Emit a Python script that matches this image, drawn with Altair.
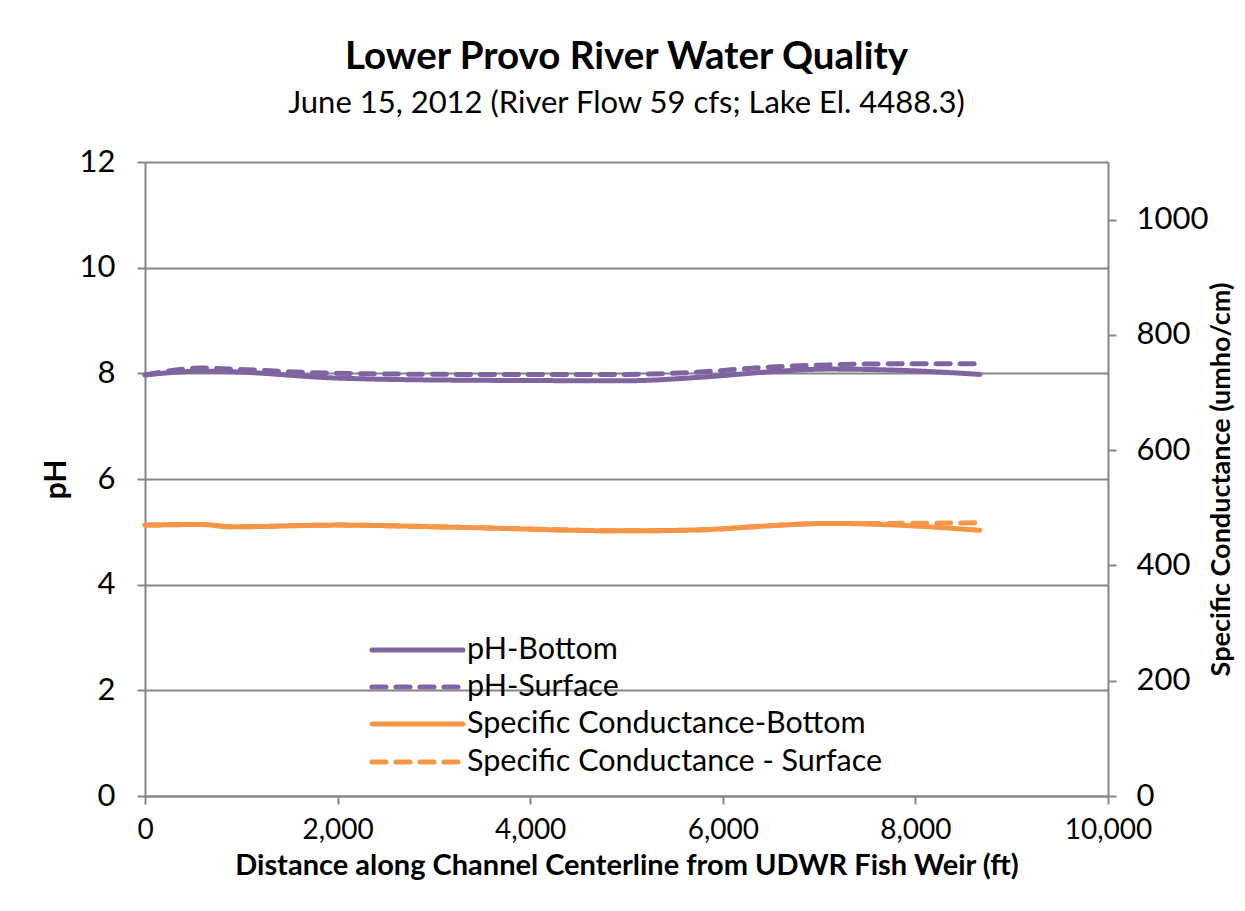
import altair as alt
import pandas as pd

# Sample locations (ft from UDWR Fish Weir)
distance = [0, 600, 900, 2000, 3300, 5000, 5800, 6500, 7100, 7800, 8670]
ph_bottom = [7.97, 8.04, 8.03, 7.91, 7.87, 7.86, 7.93, 8.03, 8.08, 8.06, 7.98]
ph_surface = [7.97, 8.10, 8.08, 8.00, 7.98, 7.98, 8.03, 8.12, 8.16, 8.18, 8.18]
sc_bottom = [470, 471, 467, 470, 466, 460, 462, 469, 473, 470, 461]
sc_surface = [470, 471, 467, 470, 466, 460, 462, 469, 473, 473, 474]

series_names = ["pH-Bottom", "pH-Surface",
                "Specific Conductance-Bottom", "Specific Conductance - Surface"]
series_colors = ["#8064A2", "#8064A2", "#F79646", "#F79646"]
series_dash = [[1, 0], [14, 10], [1, 0], [14, 10]]

x_ticks = [0, 2000, 4000, 6000, 8000, 10000]
ph_ticks = [0, 2, 4, 6, 8, 10, 12]
sc_ticks = [0, 200, 400, 600, 800, 1000]

FONT = "Lato"
GRID = "#868686"

ph_df = pd.concat([
    pd.DataFrame({"distance": distance, "value": ph_bottom, "series": series_names[0]}),
    pd.DataFrame({"distance": distance, "value": ph_surface, "series": series_names[1]}),
])
sc_df = pd.concat([
    pd.DataFrame({"distance": distance, "value": sc_bottom, "series": series_names[2]}),
    pd.DataFrame({"distance": distance, "value": sc_surface, "series": series_names[3]}),
])

x_enc = alt.X(
    "distance:Q",
    scale=alt.Scale(domain=[0, 10000], nice=False),
    axis=alt.Axis(
        values=x_ticks, format=",d", grid=False, labelFlush=False,
        title="Distance along Channel Centerline from UDWR Fish Weir (ft)",
        titleFont=FONT, titleFontSize=29, titleFontWeight="bold", titleColor="black",
        titlePadding=7,
        labelFont=FONT, labelFontSize=28, labelColor="black", labelPadding=12,
        domainColor=GRID, domainWidth=2, tickColor=GRID, tickWidth=2, tickSize=8,
    ),
)

color_enc = alt.Color("series:N", scale=alt.Scale(domain=series_names, range=series_colors), legend=None)
dash_enc = alt.StrokeDash("series:N", scale=alt.Scale(domain=series_names, range=series_dash), legend=None)

ph_lines = alt.Chart(ph_df).mark_line(strokeWidth=5, interpolate="monotone", strokeCap="round").encode(
    x=x_enc,
    y=alt.Y(
        "value:Q",
        scale=alt.Scale(domain=[0, 12], nice=False),
        axis=alt.Axis(
            values=ph_ticks, format="d", title="pH", orient="left",
            titleFont=FONT, titleFontSize=30, titleFontWeight="bold", titleColor="black",
            titlePadding=8,
            labelFont=FONT, labelFontSize=31, labelColor="black", labelPadding=22,
            grid=True, gridColor=GRID, gridWidth=2,
            domainColor=GRID, domainWidth=2, tickColor=GRID, tickWidth=2, tickSize=8,
        ),
    ),
    color=color_enc,
    strokeDash=dash_enc,
    detail="series:N",
)

sc_lines = alt.Chart(sc_df).mark_line(strokeWidth=5, interpolate="monotone", strokeCap="round").encode(
    x=x_enc,
    y=alt.Y(
        "value:Q",
        scale=alt.Scale(domain=[0, 1100], nice=False),
        axis=alt.Axis(
            values=sc_ticks, format="d", title="Specific Conductance  (umho/cm)", orient="right",
            titleFont=FONT, titleFontSize=27, titleFontWeight="bold", titleColor="black",
            titleAngle=270, titlePadding=28,
            labelFont=FONT, labelFontSize=31, labelColor="black", labelPadding=20,
            grid=False,
            domainColor=GRID, domainWidth=2, tickColor=GRID, tickWidth=2, tickSize=8,
        ),
    ),
    color=color_enc,
    strokeDash=dash_enc,
    detail="series:N",
)

# Manual legend inside plot area
one = pd.DataFrame({"k": [0]})
legend_rows_y = [488, 525, 562, 600]
legend_layers = []
for name, col, dash, yy in zip(series_names, series_colors, series_dash, legend_rows_y):
    legend_layers.append(
        alt.Chart(one).mark_rule(color=col, strokeWidth=5, strokeDash=dash, strokeCap="round").encode(
            x=alt.value(227), x2=alt.value(318), y=alt.value(yy)
        )
    )
    legend_layers.append(
        alt.Chart(one).mark_text(align="left", baseline="middle", font=FONT, fontSize=30.5, color="black").encode(
            x=alt.value(322), y=alt.value(yy), text=alt.value(name)
        )
    )

chart = alt.layer(ph_lines, sc_lines, *legend_layers).resolve_scale(
    y="independent"
).properties(
    width=963,
    height=634,
    autosize="none",
    padding={"left": 137, "top": 154, "right": 129, "bottom": 100},
    title=alt.TitleParams(
        text="Lower Provo River Water Quality",
        subtitle="June 15, 2012 (River Flow 59 cfs; Lake El. 4488.3)",
        font=FONT, fontSize=38.5, fontWeight="bold", color="black",
        subtitleFont=FONT, subtitleFontSize=31, subtitleColor="black",
        subtitlePadding=12, anchor="middle", offset=26,
    ),
).configure_view(stroke=None).configure(background="white")

chart.save("out.html", embed_options={"renderer": "svg", "actions": False})
